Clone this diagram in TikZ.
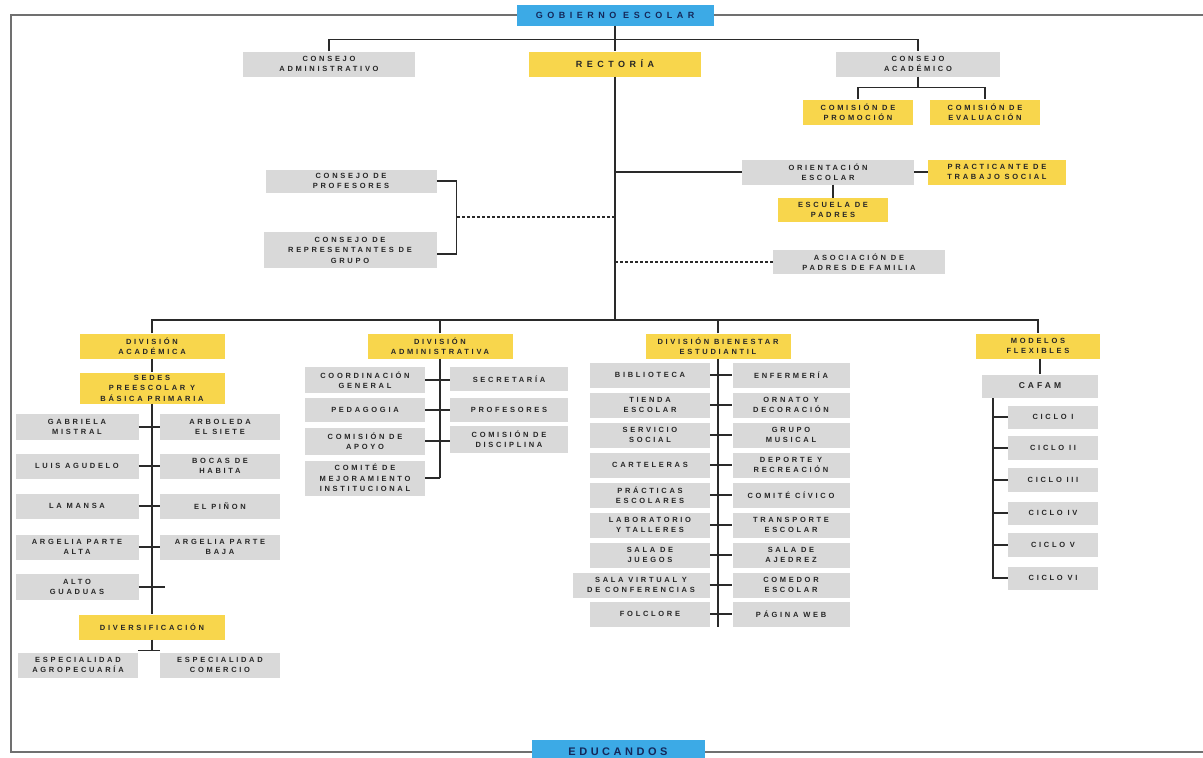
\documentclass[tikz,border=0pt]{standalone}
\usepackage{fontspec}
\newfontfamily\lbl[LetterSpace=36]{Liberation Sans}
\newfontfamily\lblB[LetterSpace=50]{Liberation Sans}
\newfontfamily\lblC[LetterSpace=32]{Liberation Sans}
\definecolor{gbx}{HTML}{D9D9D9}
\definecolor{ybx}{HTML}{F8D64C}
\definecolor{bbx}{HTML}{3CAAE6}
\definecolor{lnc}{HTML}{2A2A2A}
\definecolor{txc}{HTML}{262626}
\definecolor{navy}{HTML}{14285A}
\definecolor{frm}{HTML}{707070}
\tikzset{
  wh/.style 2 args={minimum width=#1pt, minimum height=#2pt},
  basebox/.style={rectangle, inner sep=0pt, align=center, text=txc,
    font=\lbl\bfseries\fontsize{7.5}{10.5}\selectfont},
  gbox/.style={basebox, fill=gbx},
  ybox/.style={basebox, fill=ybx},
  bbox/.style={rectangle, inner sep=0pt, align=center, fill=bbx, text=navy},
  ln/.style={draw=lnc, line width=1.5pt},
  dotl/.style={draw=lnc, line width=1.5pt, dash pattern=on 2.5pt off 2.5pt},
  frame/.style={draw=frm, line width=2.5pt}
}
\begin{document}
\begin{tikzpicture}[x=1pt,y=-1pt]
\useasboundingbox[fill=white] (0,0) rectangle (1203,758);
% frame
\draw[frame] (1203,15) -- (11,15) -- (11,752) -- (1203,752);
% top
\node[bbox, wh={197}{21}, font=\lblB\bfseries\fontsize{9}{10}\selectfont] (ge) at (615,15) {GOBIERNO ESCOLAR};
\node[bbox, wh={173}{24}, font=\lblC\bfseries\fontsize{11}{11}\selectfont] (edu) at (618,752) {EDUCANDOS};
\node[gbox, wh={172}{25}] (cadm) at (329,64) {CONSEJO\\ADMINISTRATIVO};
\node[ybox, wh={172}{25}, font=\lblB\bfseries\fontsize{9}{10}\selectfont] (rect) at (615,64) {RECTORÍA};
\node[gbox, wh={164}{25}] (cacad) at (918,64) {CONSEJO\\ACADÉMICO};
\node[ybox, wh={110}{25}] (cpro) at (858,112) {COMISIÓN DE\\PROMOCIÓN};
\node[ybox, wh={110}{25}] (ceva) at (985,112) {COMISIÓN DE\\EVALUACIÓN};
% middle
\node[gbox, wh={172}{25}] (ori) at (828,172) {ORIENTACIÓN\\ESCOLAR};
\node[ybox, wh={138}{25}] (pts) at (997,172) {PRACTICANTE DE\\TRABAJO SOCIAL};
\node[ybox, wh={110}{24}] (esc) at (833,210) {ESCUELA DE\\PADRES};
\node[gbox, wh={172}{24}] (apf) at (859,262) {ASOCIACIÓN DE\\PADRES DE FAMILIA};
\node[gbox, wh={171}{23}] (cp) at (351,181) {CONSEJO DE\\PROFESORES};
\node[gbox, wh={173}{36}] (crg) at (350,250) {CONSEJO DE\\REPRESENTANTES DE\\GRUPO};
% divisions
\node[ybox, wh={145}{25}] (dac) at (152,346) {DIVISIÓN\\ACADÉMICA};
\node[ybox, wh={145}{25}] (dadm) at (440,346) {DIVISIÓN\\ADMINISTRATIVA};
\node[ybox, wh={145}{25}] (dbe) at (718,346) {DIVISIÓN BIENESTAR\\ESTUDIANTIL};
\node[ybox, wh={124}{25}] (mf) at (1038,346) {MODELOS\\FLEXIBLES};
% academica
\node[ybox, wh={145}{31}] (sed) at (152,388) {SEDES\\PREESCOLAR Y\\BÁSICA PRIMARIA};
\node[gbox, wh={123}{26}] (s1) at (77,427) {GABRIELA\\MISTRAL};
\node[gbox, wh={120}{26}] (s2) at (220,427) {ARBOLEDA\\EL SIETE};
\node[gbox, wh={123}{25}] (s3) at (77,466) {LUIS AGUDELO};
\node[gbox, wh={120}{25}] (s4) at (220,466) {BOCAS DE\\HABITA};
\node[gbox, wh={123}{25}] (s5) at (77,506) {LA MANSA};
\node[gbox, wh={120}{25}] (s6) at (220,506) {EL PIÑON};
\node[gbox, wh={123}{25}] (s7) at (77,547) {ARGELIA PARTE\\ALTA};
\node[gbox, wh={120}{25}] (s8) at (220,547) {ARGELIA PARTE\\BAJA};
\node[gbox, wh={123}{26}] (s9) at (77,587) {ALTO\\GUADUAS};
\node[ybox, wh={146}{25}] (div) at (152,627) {DIVERSIFICACIÓN};
\node[gbox, wh={120}{25}] (ea) at (78,665) {ESPECIALIDAD\\AGROPECUARÍA};
\node[gbox, wh={120}{25}] (ec) at (220,665) {ESPECIALIDAD\\COMERCIO};
% administrativa
\node[gbox, wh={120}{26}] (a1) at (365,380) {COORDINACIÓN\\GENERAL};
\node[gbox, wh={118}{24}] (a2) at (509,379) {SECRETARÍA};
\node[gbox, wh={120}{24}] (a3) at (365,410) {PEDAGOGIA};
\node[gbox, wh={118}{24}] (a4) at (509,410) {PROFESORES};
\node[gbox, wh={120}{27}] (a5) at (365,441) {COMISIÓN DE\\APOYO};
\node[gbox, wh={118}{27}] (a6) at (509,439) {COMISIÓN DE\\DISCIPLINA};
\node[gbox, wh={120}{35}] (a7) at (365,478) {COMITÉ DE\\MEJORAMIENTO\\INSTITUCIONAL};
% bienestar
\node[gbox, wh={120}{25}] (b1) at (650,375) {BIBLIOTECA};
\node[gbox, wh={117}{25}] (b2) at (791,375) {ENFERMERÍA};
\node[gbox, wh={120}{25}] (b3) at (650,405) {TIENDA\\ESCOLAR};
\node[gbox, wh={117}{25}] (b4) at (791,405) {ORNATO Y\\DECORACIÓN};
\node[gbox, wh={120}{25}] (b5) at (650,435) {SERVICIO\\SOCIAL};
\node[gbox, wh={117}{25}] (b6) at (791,435) {GRUPO\\MUSICAL};
\node[gbox, wh={120}{25}] (b7) at (650,465) {CARTELERAS};
\node[gbox, wh={117}{25}] (b8) at (791,465) {DEPORTE Y\\RECREACIÓN};
\node[gbox, wh={120}{25}] (b9) at (650,495) {PRÁCTICAS\\ESCOLARES};
\node[gbox, wh={117}{25}] (b10) at (791,495) {COMITÉ CÍVICO};
\node[gbox, wh={120}{25}] (b11) at (650,525) {LABORATORIO\\Y TALLERES};
\node[gbox, wh={117}{25}] (b12) at (791,525) {TRANSPORTE\\ESCOLAR};
\node[gbox, wh={120}{25}] (b13) at (650,555) {SALA DE\\JUEGOS};
\node[gbox, wh={117}{25}] (b14) at (791,555) {SALA DE\\AJEDREZ};
\node[gbox, wh={137}{25}] (b15) at (641,585) {SALA VIRTUAL Y\\DE CONFERENCIAS};
\node[gbox, wh={117}{25}] (b16) at (791,585) {COMEDOR\\ESCOLAR};
\node[gbox, wh={120}{25}] (b17) at (650,614) {FOLCLORE};
\node[gbox, wh={117}{25}] (b18) at (791,614) {PÁGINA WEB};
% modelos
\node[gbox, wh={116}{23}, font=\lbl\bfseries\fontsize{8.5}{10}\selectfont] (caf) at (1040,386) {CAFAM};
\node[gbox, wh={90}{23}] (c1) at (1053,417) {CICLO I};
\node[gbox, wh={90}{24}] (c2) at (1053,448) {CICLO II};
\node[gbox, wh={90}{24}] (c3) at (1053,480) {CICLO III};
\node[gbox, wh={90}{23}] (c4) at (1053,513) {CICLO IV};
\node[gbox, wh={90}{24}] (c5) at (1053,545) {CICLO V};
\node[gbox, wh={90}{23}] (c6) at (1053,578) {CICLO VI};
% coordinates
\coordinate (bar) at (615,320);
\coordinate (bm) at (457,217);
\coordinate (cv) at (993,398);
% connectors top
\draw[ln] (ge.south) -- (rect.north);
\draw[ln] (cadm.north) -- ++(0,-12) -| (cacad.north);
\draw[ln] (rect.south) -- (bar);
\draw[ln] (cacad.south) -- ++(0,11);
\draw[ln] (cpro.north) -- ++(0,-12) -| (ceva.north);
\draw[ln] (ori.west -| rect) -- (ori.west);
\draw[ln] (ori.east) -- (pts.west);
\draw[ln] (esc.north |- ori.south) -- (esc.north);
\draw[dotl] (apf.west -| rect) -- (apf.west);
\draw[ln] (cp.east) -- ++(20,0) |- ([yshift=-4pt]crg.east);
\draw[dotl] (bm) -- (bm -| rect);
% bar
\draw[ln] (dac.north) -- (dac.north |- bar) -| (mf.north);
\draw[ln] (dadm.north) -- (dadm.north |- bar);
\draw[ln] (dbe.north) -- (dbe.north |- bar);
% academica
\draw[ln] (dac.south) -- (sed.north);
\draw[ln] (sed.south) -- (div.north);
\draw[ln] (div.south) -- ++(0,11);
\draw[ln] ([yshift=2pt]ea.north east) -- ([yshift=2pt]ec.north west);
\draw[ln] (s1.east) -- (s2.west);
\draw[ln] (s3.east) -- (s4.west);
\draw[ln] (s5.east) -- (s6.west);
\draw[ln] (s7.east) -- (s8.west);
\draw[ln] (s9.east) -- ++(26,0);
% administrativa
\draw[ln] (dadm.south) -- (dadm.south |- a7.east);
\draw[ln] (a1.east) -- (a1.east -| a2.west);
\draw[ln] (a3.east) -- (a4.west);
\draw[ln] (a5.east) -- (a5.east -| a6.west);
\draw[ln] (a7.east) -- (a7.east -| dadm);
% bienestar
\draw[ln] (dbe.south) -- ++(0,268);
\foreach \l/\r in {b1/b2,b3/b4,b5/b6,b7/b8,b9/b10,b11/b12,b13/b14,b15/b16,b17/b18}
  \draw[ln] (\l.east) -- (\r.west);
% modelos
\draw[ln] (mf.south -| caf) -- (caf.north);
\draw[ln] (cv) |- (c6.west);
\foreach \c in {c1,c2,c3,c4,c5}
  \draw[ln] (\c.west) -- (\c.west -| cv);
\end{tikzpicture}
\end{document}
